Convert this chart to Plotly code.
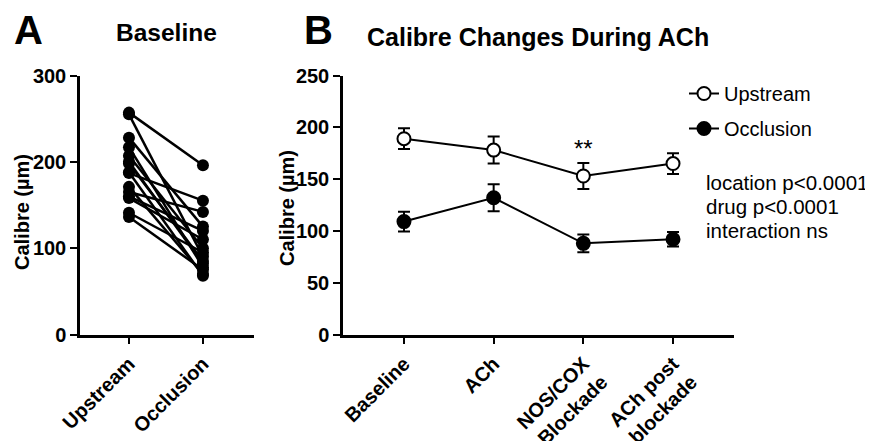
import plotly.graph_objects as go

# ---------------- data ----------------
# Panel A: paired baseline calibre (µm)
pair_categories = ["Upstream", "Occlusion"]
upstream_baseline = [257, 255, 228, 217, 207, 198, 187, 171, 165, 160, 158, 141, 136, 188, 200]
occlusion_baseline = [196, 90, 125, 78, 100, 85, 155, 70, 142, 120, 110, 95, 75, 68, 82]

# Panel B: mean ± SEM during ACh protocol
drug_categories = ["Baseline", "ACh", "NOS/COX<br>Blockade", "ACh post<br>blockade"]
upstream_mean = [189, 178, 153, 165]
upstream_sem = [10, 13, 12.5, 10]
occlusion_mean = [109, 132, 88, 92]
occlusion_sem = [9.5, 13, 8.5, 7]

stats_lines = ["location p<0.0001", "drug p<0.0001", "interaction ns"]

FONT = "Liberation Sans, Arial, sans-serif"
OFF = 8  # page body margin
W, H = 873 - OFF, 441 - OFF

def px(x):
    return (x - OFF) / W

def py(y):
    return 1 - (y - OFF) / H

fig = go.Figure()

# Panel A paired lines
for u, o in zip(upstream_baseline, occlusion_baseline):
    fig.add_trace(go.Scatter(
        x=pair_categories, y=[u, o], mode="lines+markers",
        line=dict(color="black", width=2.5),
        marker=dict(color="black", size=12),
        showlegend=False, xaxis="x", yaxis="y", cliponaxis=False,
    ))

# Panel B
fig.add_trace(go.Scatter(
    x=drug_categories, y=upstream_mean, mode="lines+markers", name="Upstream",
    line=dict(color="black", width=2),
    marker=dict(color="white", size=13, line=dict(color="black", width=2)),
    error_y=dict(type="data", array=upstream_sem, color="black", thickness=2, width=6),
    xaxis="x2", yaxis="y2", legendgroup="u", cliponaxis=False,
))
fig.add_trace(go.Scatter(
    x=drug_categories, y=occlusion_mean, mode="lines+markers", name="Occlusion",
    line=dict(color="black", width=2),
    marker=dict(color="black", size=13, line=dict(color="black", width=2)),
    error_y=dict(type="data", array=occlusion_sem, color="black", thickness=2, width=6),
    xaxis="x2", yaxis="y2", legendgroup="o", cliponaxis=False,
))

ydom = [py(334.5), py(75.5)]
axis_common = dict(
    showline=True, linecolor="black", linewidth=2.5, mirror=False,
    ticks="outside", ticklen=7, tickwidth=2, tickcolor="black",
    showgrid=False, zeroline=False, automargin=False,
    tickfont=dict(family=FONT, size=20, color="black", weight="bold"),
)

fig.update_layout(
    width=W, height=H, margin=dict(l=0, r=0, t=0, b=0, autoexpand=False),
    paper_bgcolor="white", plot_bgcolor="white",
    font=dict(family=FONT, color="black"),
    xaxis=dict(domain=[px(80), px(254)], type="category", range=[-0.662, 1.69],
               tickangle=-45, anchor="y", **axis_common),
    yaxis=dict(domain=ydom, range=[0, 300], tickvals=[0, 100, 200, 300],
               anchor="x", **axis_common),
    xaxis2=dict(domain=[px(343), px(734)], type="category", range=[-0.68, 3.68],
                tickangle=-45, anchor="y2", **axis_common),
    yaxis2=dict(domain=ydom, range=[0, 250], tickvals=[0, 50, 100, 150, 200, 250],
                anchor="x2", **axis_common),
    legend=dict(x=px(684), y=py(74), xanchor="left", yanchor="top",
                font=dict(family=FONT, size=20, color="black"),
                tracegroupgap=6, bgcolor="rgba(0,0,0,0)"),
)

def label(text, x, y, size, angle=0):
    return dict(text=text, x=px(x), y=py(y), xref="paper", yref="paper",
                xanchor="center", yanchor="middle", textangle=angle,
                showarrow=False, font=dict(size=size, family=FONT, color="black"))

ann = [
    label("<b>A</b>", 28, 30, 40),
    label("<b>Baseline</b>", 166, 33, 24.5),
    label("<b>B</b>", 318, 30, 40),
    label("<b>Calibre Changes During ACh</b>", 538, 37, 25),
    label("<b>Calibre (µm)</b>", 22, 212, 20, -90),
    label("<b>Calibre (µm)</b>", 287, 208, 20, -90),
]
ann.append(dict(text="**", x=drug_categories[2], y=upstream_mean[2] + upstream_sem[2] + 14,
                xref="x2", yref="y2", xanchor="center", yanchor="middle",
                showarrow=False, font=dict(size=24, family=FONT, color="black")))
for i, line in enumerate(stats_lines):
    ann.append(dict(text=line, x=px(704), y=py(183 + 23.5 * i), xref="paper", yref="paper",
                    xanchor="left", yanchor="middle", showarrow=False,
                    font=dict(size=20.5, family=FONT, color="black")))
fig.update_layout(annotations=ann)

fig.write_html("out.html")
